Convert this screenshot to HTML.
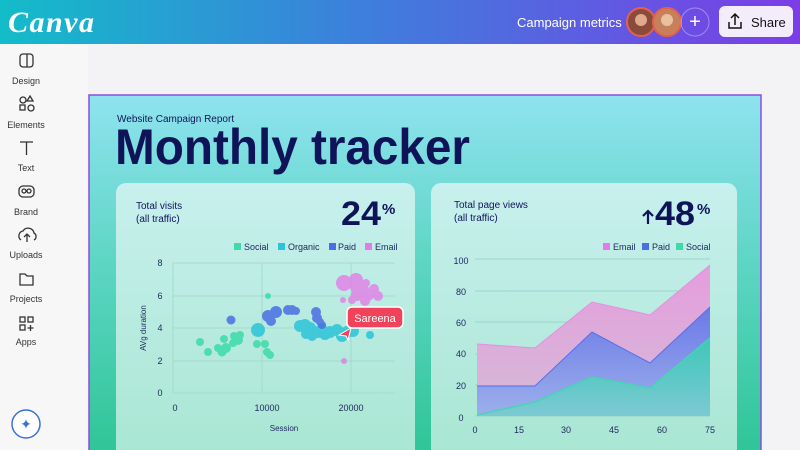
<!DOCTYPE html>
<html><head><meta charset="utf-8"><style>
*{margin:0;padding:0;box-sizing:border-box}
body{width:800px;height:450px;overflow:hidden;background:#f3f3f5;font-family:"Liberation Sans",sans-serif;position:relative}
</style></head><body>
<svg width="800" height="450" viewBox="0 0 800 450" xmlns="http://www.w3.org/2000/svg" style="position:absolute;left:0;top:0;font-family:'Liberation Sans',sans-serif">
<defs>
<linearGradient id="top" x1="0" x2="1" y1="0" y2="0"><stop offset="0" stop-color="#13bcc9"/><stop offset="0.45" stop-color="#3d7fdc"/><stop offset="1" stop-color="#7c3de6"/></linearGradient>
<linearGradient id="pg" x1="0" x2="0" y1="0" y2="1"><stop offset="0" stop-color="#8fe3ef"/><stop offset="0.45" stop-color="#5fd6c6"/><stop offset="1" stop-color="#2ec596"/></linearGradient>
<linearGradient id="card" x1="0" x2="0" y1="0" y2="1"><stop offset="0" stop-color="#c8f0ee"/><stop offset="1" stop-color="#a8e6d2"/></linearGradient>
<linearGradient id="ge" x1="0" x2="0" y1="0" y2="1"><stop offset="0" stop-color="#ea94dc"/><stop offset="1" stop-color="#d8b6d8"/></linearGradient>
<linearGradient id="gp" x1="0" x2="0" y1="0" y2="1"><stop offset="0" stop-color="#6b79e8"/><stop offset="1" stop-color="#9cb0ea"/></linearGradient>
<linearGradient id="gs" x1="0" x2="0" y1="0" y2="1"><stop offset="0" stop-color="#3ec8b8"/><stop offset="1" stop-color="#7cc9d2"/></linearGradient>
</defs>
<rect x="0" y="0" width="800" height="44" fill="url(#top)"/>
<text x="8" y="32" fill="#fff" font-family="'Liberation Serif',serif" font-style="italic" font-weight="bold" font-size="30" textLength="86">Canva</text>
<text x="517" y="27" fill="#fff" font-size="13">Campaign metrics</text>
<circle cx="641" cy="22" r="14" fill="#8a4b3a" stroke="#e3604d" stroke-width="2"/>
<circle cx="641" cy="20" r="6" fill="#e0a98c"/>
<circle cx="667" cy="22" r="14" fill="#c8805a" stroke="#e3604d" stroke-width="2"/>
<circle cx="667" cy="20" r="6" fill="#e9c0a0"/>
<circle cx="695" cy="22" r="14" fill="none" stroke="rgba(255,255,255,0.35)" stroke-width="1"/>
<text x="695" y="28" fill="#fff" font-size="20" text-anchor="middle">+</text>
<rect x="719" y="6" width="74" height="31" rx="6" fill="#f3ecfb"/>
<path d="M729 22v6h12v-6M735 14v11M731 18l4-4 4 4" stroke="#111" stroke-width="1.5" fill="none"/>
<text x="751" y="27" fill="#111" font-size="13">Share</text>
<rect x="0" y="44" width="88" height="406" fill="#f7f7f8"/>
<g fill="none" stroke="#333" stroke-width="1.3">
<rect x="20" y="54" width="13" height="13" rx="3"/><line x1="27" y1="54" x2="27" y2="67"/>
<circle cx="23" cy="100" r="3"/><path d="M30 96l3 5h-6z"/><rect x="20" y="105" width="5" height="5"/><circle cx="31" cy="108" r="3"/>
<path d="M20 142h13M26.5 142v13"/>
<rect x="19" y="186" width="15" height="11" rx="4"/><circle cx="24" cy="191" r="2"/><circle cx="29" cy="191" r="2"/>
<path d="M21 240a5 5 0 0 1 2-9a6 6 0 0 1 11 2a4 4 0 0 1 0 7M27 242v-8M24 237l3-3 3 3"/>
<path d="M20 274h5l2 2h6v9h-13z"/>
<rect x="20" y="317" width="5" height="5"/><rect x="28" y="317" width="5" height="5"/><rect x="20" y="325" width="5" height="5"/><path d="M30.5 325v6M27.5 328h6"/>
</g>
<g font-size="9" fill="#333" text-anchor="middle">
<text x="26" y="84">Design</text><text x="26" y="128">Elements</text><text x="26" y="171">Text</text><text x="26" y="215">Brand</text><text x="26" y="258">Uploads</text><text x="26" y="302">Projects</text><text x="26" y="345">Apps</text>
</g>
<circle cx="26" cy="424" r="14" fill="#fff" stroke="#3a6fd8" stroke-width="1.5"/>
<text x="26" y="429" font-size="14" fill="#3a6fd8" text-anchor="middle">✦</text>
<rect x="89" y="95" width="672" height="360" fill="url(#pg)" stroke="#8b4ce0" stroke-width="1.5"/>
<text x="117" y="122" fill="#0f1459" font-size="10">Website Campaign Report</text>
<text x="115" y="164" fill="#0f1459" font-size="50" font-weight="bold" textLength="355" lengthAdjust="spacingAndGlyphs">Monthly tracker</text>
<rect x="116" y="183" width="299" height="280" rx="10" fill="url(#card)"/>
<text x="136" y="209" fill="#0f1459" font-size="10">Total visits</text>
<text x="136" y="222" fill="#0f1459" font-size="10">(all traffic)</text>
<text x="341" y="225" fill="#0f1459" font-size="34" font-weight="bold" textLength="40" lengthAdjust="spacingAndGlyphs">24</text>
<text x="382" y="214" fill="#0f1459" font-size="15" font-weight="bold">%</text>
<g font-size="9" fill="#1f2a60">
<rect x="234" y="243" width="7" height="7" fill="#3ddba8"/><text x="244" y="250">Social</text>
<rect x="278" y="243" width="7" height="7" fill="#2bc4d8"/><text x="288" y="250">Organic</text>
<rect x="329" y="243" width="7" height="7" fill="#4a6fe3"/><text x="338" y="250">Paid</text>
<rect x="365" y="243" width="7" height="7" fill="#e27de6"/><text x="375" y="250">Email</text>
</g>
<g stroke="#9fd6c8" stroke-width="0.8">
<line x1="173" y1="263" x2="395" y2="263"/><line x1="173" y1="296" x2="395" y2="296"/><line x1="173" y1="328" x2="395" y2="328"/><line x1="173" y1="361" x2="395" y2="361"/><line x1="173" y1="393" x2="395" y2="393"/>
<line x1="173" y1="263" x2="173" y2="393"/><line x1="262" y1="263" x2="262" y2="393"/><line x1="351" y1="263" x2="351" y2="393"/>
</g>
<g font-size="9" fill="#1f2a60" text-anchor="middle">
<text x="160" y="266">8</text><text x="160" y="299">6</text><text x="160" y="331">4</text><text x="160" y="364">2</text><text x="160" y="396">0</text>
<text x="175" y="411">0</text><text x="267" y="411">10000</text><text x="351" y="411">20000</text>
<text x="284" y="431" font-size="8">Session</text>
<text transform="translate(146 328) rotate(-90)" font-size="8">AVg duration</text>
</g>
<g fill="#3ddba8" opacity="0.85">
<circle cx="200" cy="342" r="4"/><circle cx="208" cy="352" r="4"/><circle cx="222" cy="352" r="4.5"/><circle cx="218" cy="348" r="4"/><circle cx="226" cy="348" r="5"/><circle cx="224" cy="339" r="4"/><circle cx="233" cy="343" r="4"/><circle cx="238" cy="340" r="5"/><circle cx="234" cy="336" r="4"/><circle cx="240" cy="335" r="4"/><circle cx="257" cy="344" r="4"/><circle cx="265" cy="344" r="4"/><circle cx="268" cy="296" r="3"/><circle cx="267" cy="352" r="4"/><circle cx="270" cy="355" r="4"/>
</g>
<g fill="#2bc4d8" opacity="0.85">
<circle cx="258" cy="330" r="7"/><circle cx="300" cy="326" r="6"/><circle cx="305" cy="325" r="6"/><circle cx="310" cy="328" r="6"/><circle cx="306" cy="334" r="5"/><circle cx="312" cy="336" r="5"/><circle cx="318" cy="332" r="6"/><circle cx="325" cy="334" r="6"/><circle cx="330" cy="332" r="6"/><circle cx="337" cy="330" r="6"/><circle cx="342" cy="336" r="6"/><circle cx="347" cy="332" r="6"/><circle cx="353" cy="331" r="6"/><circle cx="370" cy="335" r="4"/><circle cx="322" cy="328" r="5"/>
</g>
<g fill="#4a6fe3" opacity="0.85">
<circle cx="231" cy="320" r="4.5"/><circle cx="268" cy="316" r="6"/><circle cx="271" cy="321" r="5"/><circle cx="276" cy="312" r="6"/><circle cx="288" cy="310" r="5"/><circle cx="292" cy="310" r="5"/><circle cx="296" cy="311" r="4"/><circle cx="316" cy="312" r="5"/><circle cx="317" cy="318" r="5"/><circle cx="320" cy="322" r="4"/><circle cx="322" cy="325" r="4"/>
</g>
<g fill="#e27de6" opacity="0.8">
<circle cx="344" cy="283" r="8"/><circle cx="356" cy="280" r="7"/><circle cx="356" cy="287" r="6"/><circle cx="357" cy="295" r="6"/><circle cx="362" cy="290" r="7"/><circle cx="368" cy="295" r="6"/><circle cx="374" cy="289" r="5"/><circle cx="378" cy="296" r="5"/><circle cx="365" cy="301" r="5"/><circle cx="352" cy="300" r="4"/><circle cx="366" cy="283" r="4"/><circle cx="343" cy="300" r="3"/><circle cx="344" cy="361" r="3"/>
</g>
<rect x="347" y="307" width="56" height="21" rx="5" fill="#f0425a" stroke="#fff" stroke-width="1.5"/>
<text x="375" y="322" fill="#fff" font-size="11" text-anchor="middle">Sareena</text>
<path d="M339 335l12-7-3 12-2-4z" fill="#f0425a" stroke="#fff" stroke-width="1"/>
<rect x="431" y="183" width="306" height="280" rx="10" fill="url(#card)"/>
<text x="454" y="208" fill="#0f1459" font-size="10">Total page views</text>
<text x="454" y="221" fill="#0f1459" font-size="10">(all traffic)</text>
<path d="M648 224v-13M643 216l5-5 5 5" stroke="#0f1459" stroke-width="2.2" fill="none"/>
<text x="655" y="225" fill="#0f1459" font-size="34" font-weight="bold" textLength="40" lengthAdjust="spacingAndGlyphs">48</text>
<text x="697" y="214" fill="#0f1459" font-size="15" font-weight="bold">%</text>
<g font-size="9" fill="#1f2a60">
<rect x="603" y="243" width="7" height="7" fill="#e27de6"/><text x="613" y="250">Email</text>
<rect x="642" y="243" width="7" height="7" fill="#4a6fe3"/><text x="652" y="250">Paid</text>
<rect x="676" y="243" width="7" height="7" fill="#3ddba8"/><text x="686" y="250">Social</text>
</g>
<g stroke="#8fcfc3" stroke-width="0.8">
<line x1="475" y1="259" x2="710" y2="259"/><line x1="475" y1="291" x2="710" y2="291"/><line x1="475" y1="322" x2="710" y2="322"/><line x1="475" y1="354" x2="710" y2="354"/><line x1="475" y1="385" x2="710" y2="385"/><line x1="475" y1="416" x2="710" y2="416"/>
</g>
<path d="M477 344L535 348L592 302L650 315L710 265L710 416L477 416Z" fill="url(#ge)" opacity="0.9"/>
<path d="M477 386L535 386L592 332L650 363L710 307L710 416L477 416Z" fill="url(#gp)"/>
<path d="M477 415L535 402L592 377L650 388L710 338L710 416L477 416Z" fill="url(#gs)"/>
<path d="M477 344L535 348L592 302L650 315L710 265" stroke="#e58ee0" fill="none"/>
<path d="M477 386L535 386L592 332L650 363L710 307" stroke="#5a6ee6" fill="none"/>
<path d="M477 415L535 402L592 377L650 388L710 338" stroke="#3fd8b0" fill="none" stroke-width="1.3"/>
<g font-size="9" fill="#1f2a60" text-anchor="middle">
<text x="461" y="264">100</text><text x="461" y="295">80</text><text x="461" y="326">60</text><text x="461" y="357">40</text><text x="461" y="389">20</text><text x="461" y="421">0</text>
<text x="475" y="433">0</text><text x="519" y="433">15</text><text x="566" y="433">30</text><text x="614" y="433">45</text><text x="662" y="433">60</text><text x="710" y="433">75</text>
</g>
</svg>
</body></html>
